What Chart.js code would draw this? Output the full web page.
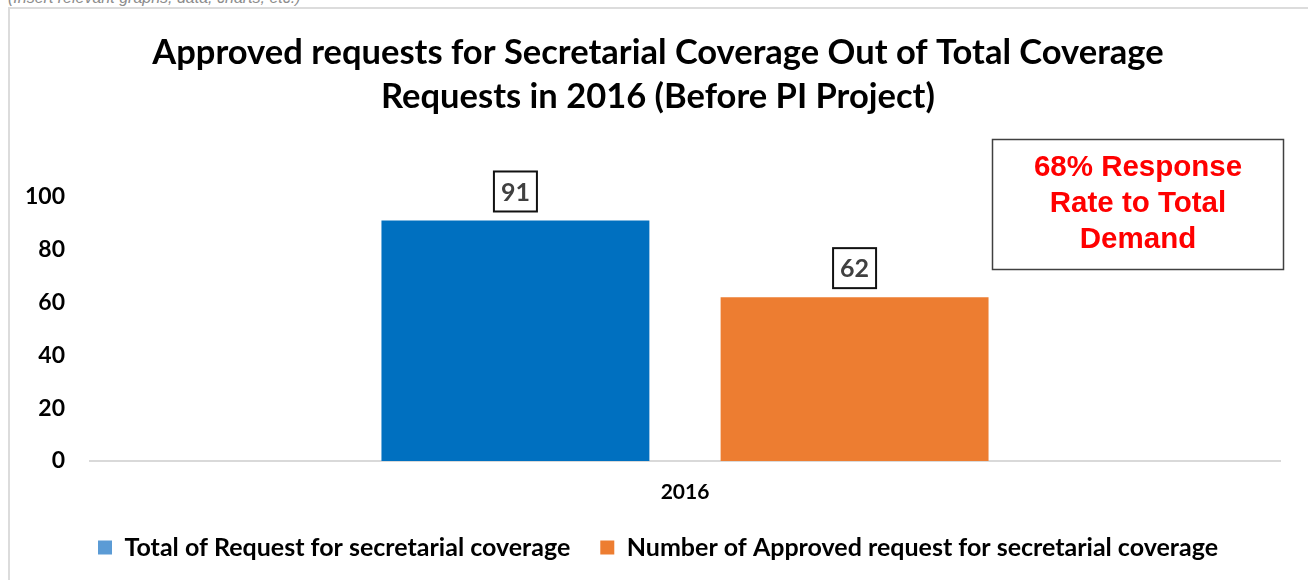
<!DOCTYPE html>
<html>
<head>
<meta charset="utf-8">
<script src="https://cdn.jsdelivr.net/npm/chart.js@4"></script>
<style>
  html, body { margin: 0; padding: 0; background: #fff; overflow: hidden; }
  #note { position: absolute; left: 8px; top: -11px; font: italic 16px "Liberation Sans", Arial, sans-serif; color: #8c8c8c; white-space: nowrap; }
  #frame { position: absolute; left: 8px; top: 7px; width: 1310px; height: 580px; border-top: 2px solid #dcdcdc; border-left: 2px solid #dcdcdc; }
  #wrap { position: absolute; left: 0; top: 0; width: 1308px; height: 580px; }
</style>
</head>
<body>
<div id="note">(Insert relevant graphs, data, charts, etc.)</div>
<div id="frame"></div>
<div id="wrap"><canvas id="chart1"></canvas></div>
<script>
// ===== Data =====
const categories = ["2016"];
const totalRequests = [91];
const approvedRequests = [62];
const yTicks = [0, 20, 40, 60, 80, 100];
const seriesNames = [
  "Total of Request for secretarial coverage",
  "Number of Approved request for secretarial coverage"
];
const chartTitle = [
  "Approved requests for Secretarial Coverage Out of Total Coverage",
  "Requests in 2016 (Before PI Project)"
];
const noteLines = ["68% Response", "Rate to Total", "Demand"];

const mainFont = "Lato, Calibri, sans-serif";

// ===== Boxed value labels =====
const boxedLabels = {
  id: "boxedLabels",
  afterDatasetsDraw(chart) {
    const ctx = chart.ctx;
    ctx.save();
    ctx.font = "bold 25px " + mainFont;
    ctx.textAlign = "center";
    ctx.textBaseline = "middle";
    chart.data.datasets.forEach((ds, i) => {
      chart.getDatasetMeta(i).data.forEach((bar, j) => {
        const cx = bar.x;
        const cy = bar.y - 29;
        const w = 43, h = 40;
        ctx.fillStyle = "#fff";
        ctx.fillRect(cx - w / 2, cy - h / 2, w, h);
        ctx.lineWidth = 2;
        ctx.strokeStyle = "#111";
        ctx.strokeRect(cx - w / 2, cy - h / 2, w, h);
        ctx.fillStyle = "#404040";
        ctx.fillText(ds.data[j], cx, cy + 1);
      });
    });
    ctx.restore();
  }
};

// ===== Response rate note =====
const noteBox = {
  id: "noteBox",
  afterDraw(chart) {
    const ctx = chart.ctx;
    ctx.save();
    ctx.lineWidth = 1.5;
    ctx.strokeStyle = "#404040";
    ctx.strokeRect(992.5, 139.5, 291, 130);
    ctx.fillStyle = "#ff0000";
    ctx.font = "bold 29.5px 'Liberation Sans', Arial, sans-serif";
    ctx.textAlign = "center";
    ctx.textBaseline = "middle";
    noteLines.forEach((t, i) => ctx.fillText(t, 1138, 168 + i * 36));
    ctx.restore();
  }
};

new Chart(document.getElementById("chart1"), {
  type: "bar",
  data: {
    labels: categories,
    datasets: [
      { label: seriesNames[0], data: totalRequests, backgroundColor: "#0070c0" },
      { label: seriesNames[1], data: approvedRequests, backgroundColor: "#ed7d31" }
    ]
  },
  options: {
    responsive: true,
    maintainAspectRatio: false,
    animation: false,
    categoryPercentage: 0.57,
    barPercentage: 0.79,
    layout: { padding: { left: 10, right: 2, top: 8, bottom: 10 } },
    plugins: {
      title: {
        display: true,
        text: chartTitle,
        color: "#000",
        font: { family: mainFont, size: 34.5, weight: "bold", lineHeight: 1.3 },
        padding: { top: 22, bottom: 77 }
      },
      legend: {
        position: "bottom",
        labels: {
          color: "#000",
          font: { family: mainFont, size: 25, weight: "bold" },
          boxWidth: 14,
          boxHeight: 14,
          padding: 30,
          generateLabels(chart) {
            return chart.data.datasets.map((ds, i) => ({
              text: ds.label,
              fillStyle: i === 0 ? "#5b9bd5" : "#ed7d31",
              strokeStyle: "transparent",
              lineWidth: 0,
              datasetIndex: i
            }));
          }
        }
      },
      tooltip: { enabled: false }
    },
    scales: {
      x: {
        afterFit(scale) { scale.height = 44; },
        grid: { display: false },
        border: { color: "#d9d9d9", width: 2 },
        ticks: { color: "#000", font: { family: mainFont, size: 21, weight: "bold" }, padding: 11 }
      },
      y: {
        min: 0,
        max: 100,
        afterFit(scale) { scale.width = 80; },
        afterBuildTicks(scale) { scale.ticks = yTicks.map(v => ({ value: v })); },
        grid: { display: false },
        border: { display: false },
        ticks: { color: "#000", font: { family: mainFont, size: 23, weight: "bold" }, padding: 17 }
      },
      // empty spacer on the right so the title and legend centre like the original
      yRight: {
        position: "right",
        min: 0,
        max: 1,
        afterFit(scale) { scale.width = 26; },
        grid: { display: false },
        border: { display: false },
        ticks: { display: false }
      }
    }
  },
  plugins: [boxedLabels, noteBox]
});
</script>
</body>
</html>
